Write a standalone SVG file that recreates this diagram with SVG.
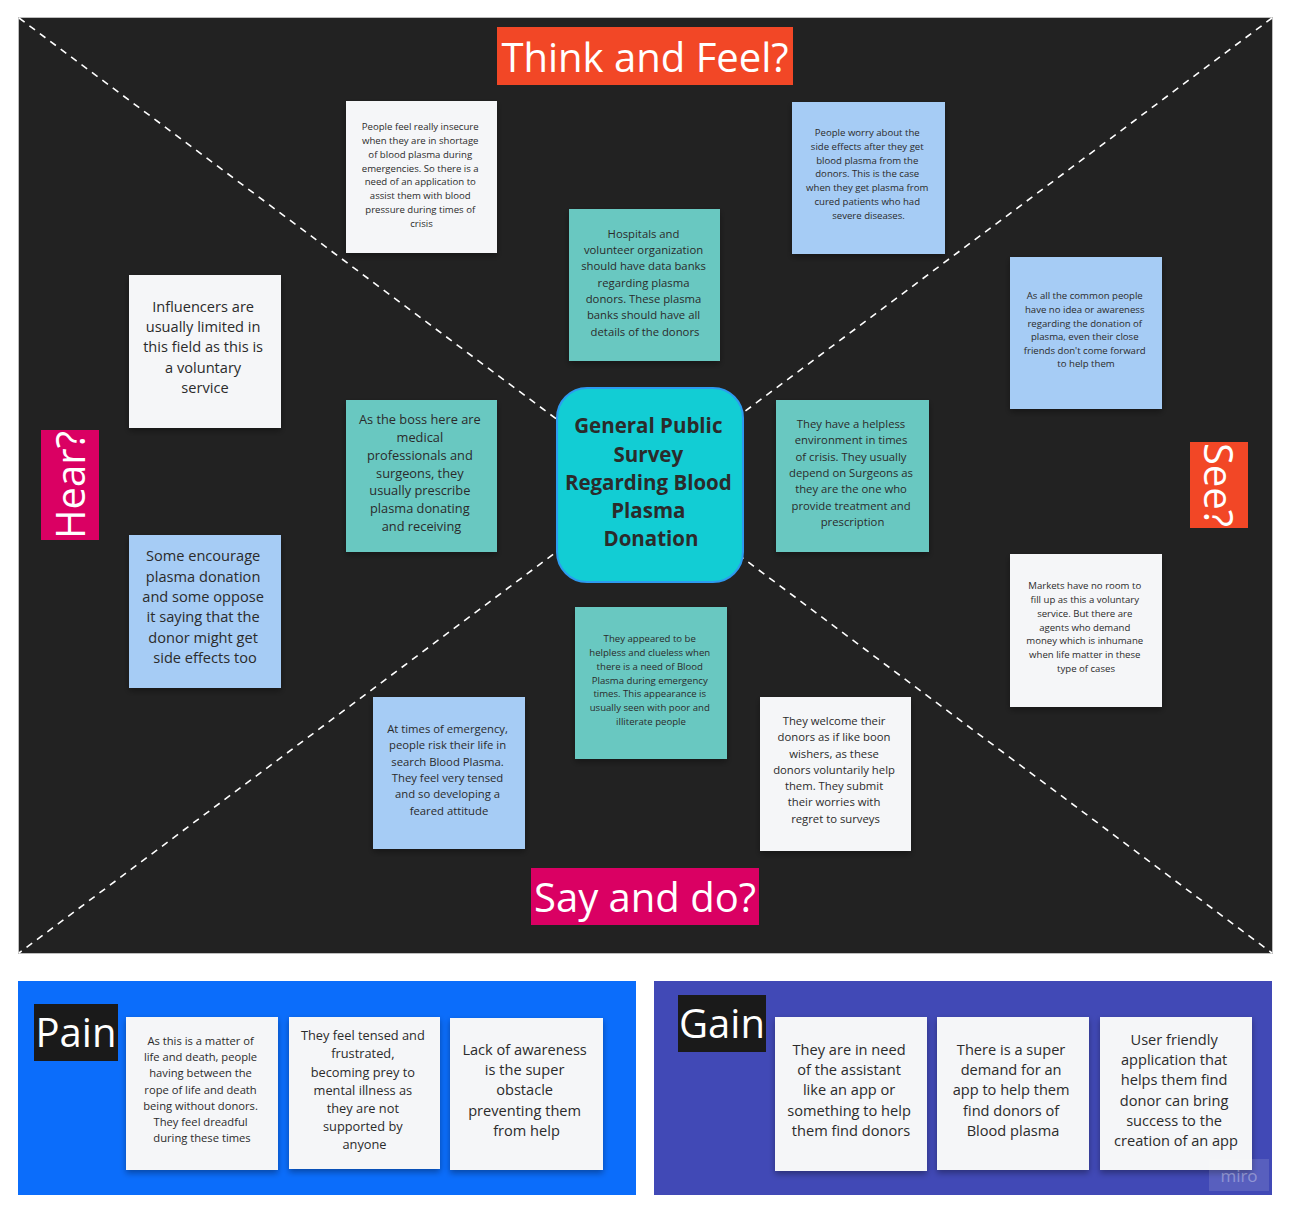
<svg xmlns="http://www.w3.org/2000/svg" width="1289" height="1211" viewBox="0 0 1289 1211">
  <style>
    .t { font-family: "Open Sans", "Noto Sans", "DejaVu Sans", sans-serif; fill: #2b2b2b; text-anchor: middle; }
    .white { fill: #f5f6f8; }
    .blue { fill: #a6ccf5; }
    .teal { fill: #69c8c1; }
    .note { filter: url(#shadow); }
    .label { font-family: "Open Sans", "Noto Sans", "DejaVu Sans", sans-serif; font-size: 40px; fill: #ffffff; text-anchor: middle; }
    .diag { stroke: #ffffff; stroke-width: 1.6; stroke-dasharray: 7 6; fill: none; }
  </style>
  <defs>
    <filter id="shadow" x="-10%" y="-10%" width="120%" height="130%">
      <feDropShadow dx="0" dy="3" stdDeviation="3" flood-color="#000000" flood-opacity="0.35"/>
    </filter>
  </defs>

  <rect width="1289" height="1211" fill="#ffffff"/>

  <!-- empathy map board -->
  <rect x="18.5" y="17.5" width="1254" height="936" fill="#222222" stroke="#bdbdbd" stroke-width="1"/>

  <!-- quadrant dividers -->
  <g id="connectors">
    <line class="diag" x1="19" y1="18" x2="1272" y2="953"/>
    <line class="diag" x1="1272" y1="18" x2="19" y2="953"/>
  </g>

  <!-- quadrant titles -->
  <g id="title-think">
    <rect x="497" y="27" width="296" height="58" fill="#f24726"/>
    <text class="label" x="645" y="72">Think and Feel?</text>
  </g>
  <g id="title-say">
    <rect x="531" y="868" width="228" height="57" fill="#da0063"/>
    <text class="label" x="645" y="912">Say and do?</text>
  </g>
  <g id="title-hear">
    <rect x="41" y="430" width="58" height="110" fill="#da0063"/>
    <text class="label" transform="translate(85 485) rotate(-90)">Hear?</text>
  </g>
  <g id="title-see">
    <rect x="1190" y="442" width="58" height="86" fill="#f24726"/>
    <text class="label" transform="translate(1204 485) rotate(90)">See?</text>
  </g>

  <!-- central topic -->
  <g id="center">
    <rect x="557" y="388" width="186" height="194" rx="30" fill="#12cdd4" stroke="#2d9bf0" stroke-width="2"/>
    <text class="t" font-size="20.5" font-weight="bold" fill="#1a1a1a">
      <tspan x="651" y="433">General Public</tspan>
      <tspan x="651" y="462">Survey</tspan>
      <tspan x="651" y="490">Regarding Blood</tspan>
      <tspan x="651" y="518">Plasma</tspan>
      <tspan x="651" y="546">Donation</tspan>
    </text>
  </g>

  <!-- think and feel -->
  <g id="note-insecure">
    <rect class="note white" x="346" y="101" width="151" height="152"/>
    <text class="t" font-size="9.6">
      <tspan x="421.5" y="130">People feel really insecure</tspan>
      <tspan x="421.5" y="144">when they are in shortage</tspan>
      <tspan x="421.5" y="158">of blood plasma during</tspan>
      <tspan x="421.5" y="172">emergencies. So there is a</tspan>
      <tspan x="421.5" y="185">need of an application to</tspan>
      <tspan x="421.5" y="199">assist them with blood</tspan>
      <tspan x="421.5" y="213">pressure during times of</tspan>
      <tspan x="421.5" y="227">crisis</tspan>
    </text>
  </g>
  <g id="note-worry">
    <rect class="note blue" x="792" y="102" width="153" height="152"/>
    <text class="t" font-size="9.6">
      <tspan x="868.5" y="136">People worry about the</tspan>
      <tspan x="868.5" y="150">side effects after they get</tspan>
      <tspan x="868.5" y="164">blood plasma from the</tspan>
      <tspan x="868.5" y="177">donors. This is the case</tspan>
      <tspan x="868.5" y="191">when they get plasma from</tspan>
      <tspan x="868.5" y="205">cured patients who had</tspan>
      <tspan x="868.5" y="219">severe diseases.</tspan>
    </text>
  </g>
  <g id="note-databanks">
    <rect class="note teal" x="569" y="209" width="151" height="152"/>
    <text class="t" font-size="11.3">
      <tspan x="645" y="238">Hospitals and</tspan>
      <tspan x="645" y="254">volunteer organization</tspan>
      <tspan x="645" y="270">should have data banks</tspan>
      <tspan x="645" y="287">regarding plasma</tspan>
      <tspan x="645" y="303">donors. These plasma</tspan>
      <tspan x="645" y="319">banks should have all</tspan>
      <tspan x="645" y="336">details of the donors</tspan>
    </text>
  </g>

  <!-- see -->
  <g id="note-awareness">
    <rect class="note blue" x="1010" y="257" width="152" height="152"/>
    <text class="t" font-size="9.6">
      <tspan x="1086" y="299">As all the common people</tspan>
      <tspan x="1086" y="313">have no idea or awareness</tspan>
      <tspan x="1086" y="327">regarding the donation of</tspan>
      <tspan x="1086" y="340">plasma, even their close</tspan>
      <tspan x="1086" y="354">friends don't come forward</tspan>
      <tspan x="1086" y="367">to help them</tspan>
    </text>
  </g>
  <g id="note-helpless">
    <rect class="note teal" x="776" y="400" width="153" height="152"/>
    <text class="t" font-size="11.3">
      <tspan x="852.5" y="428">They have a helpless</tspan>
      <tspan x="852.5" y="444">environment in times</tspan>
      <tspan x="852.5" y="461">of crisis. They usually</tspan>
      <tspan x="852.5" y="477">depend on Surgeons as</tspan>
      <tspan x="852.5" y="493">they are the one who</tspan>
      <tspan x="852.5" y="510">provide treatment and</tspan>
      <tspan x="852.5" y="526">prescription</tspan>
    </text>
  </g>
  <g id="note-markets">
    <rect class="note white" x="1010" y="554" width="152" height="153"/>
    <text class="t" font-size="9.6">
      <tspan x="1086" y="589">Markets have no room to</tspan>
      <tspan x="1086" y="603">fill up as this a voluntary</tspan>
      <tspan x="1086" y="617">service. But there are</tspan>
      <tspan x="1086" y="631">agents who demand</tspan>
      <tspan x="1086" y="644">money which is inhumane</tspan>
      <tspan x="1086" y="658">when life matter in these</tspan>
      <tspan x="1086" y="672">type of cases</tspan>
    </text>
  </g>

  <!-- hear -->
  <g id="note-influencers">
    <rect class="note white" x="129" y="275" width="152" height="153"/>
    <text class="t" font-size="14.6">
      <tspan x="205" y="312">Influencers are</tspan>
      <tspan x="205" y="332">usually limited in</tspan>
      <tspan x="205" y="352">this field as this is</tspan>
      <tspan x="205" y="373">a voluntary</tspan>
      <tspan x="205" y="393">service</tspan>
    </text>
  </g>
  <g id="note-boss">
    <rect class="note teal" x="346" y="400" width="151" height="152"/>
    <text class="t" font-size="12.8">
      <tspan x="421.5" y="424">As the boss here are</tspan>
      <tspan x="421.5" y="442">medical</tspan>
      <tspan x="421.5" y="460">professionals and</tspan>
      <tspan x="421.5" y="478">surgeons, they</tspan>
      <tspan x="421.5" y="495">usually prescribe</tspan>
      <tspan x="421.5" y="513">plasma donating</tspan>
      <tspan x="421.5" y="531">and receiving</tspan>
    </text>
  </g>
  <g id="note-encourage">
    <rect class="note blue" x="129" y="535" width="152" height="153"/>
    <text class="t" font-size="14.6">
      <tspan x="205" y="561">Some encourage</tspan>
      <tspan x="205" y="582">plasma donation</tspan>
      <tspan x="205" y="602">and some oppose</tspan>
      <tspan x="205" y="622">it saying that the</tspan>
      <tspan x="205" y="643">donor might get</tspan>
      <tspan x="205" y="663">side effects too</tspan>
    </text>
  </g>

  <!-- say and do -->
  <g id="note-clueless">
    <rect class="note teal" x="575" y="607" width="152" height="152"/>
    <text class="t" font-size="9.6">
      <tspan x="651" y="642">They appeared to be</tspan>
      <tspan x="651" y="656">helpless and clueless when</tspan>
      <tspan x="651" y="670">there is a need of Blood</tspan>
      <tspan x="651" y="684">Plasma during emergency</tspan>
      <tspan x="651" y="697">times. This appearance is</tspan>
      <tspan x="651" y="711">usually seen with poor and</tspan>
      <tspan x="651" y="725">illiterate people</tspan>
    </text>
  </g>
  <g id="note-risk">
    <rect class="note blue" x="373" y="697" width="152" height="152"/>
    <text class="t" font-size="11.3">
      <tspan x="449" y="733">At times of emergency,</tspan>
      <tspan x="449" y="749">people risk their life in</tspan>
      <tspan x="449" y="766">search Blood Plasma.</tspan>
      <tspan x="449" y="782">They feel very tensed</tspan>
      <tspan x="449" y="798">and so developing a</tspan>
      <tspan x="449" y="815">feared attitude</tspan>
    </text>
  </g>
  <g id="note-welcome">
    <rect class="note white" x="760" y="697" width="151" height="154"/>
    <text class="t" font-size="11.3">
      <tspan x="835.5" y="725">They welcome their</tspan>
      <tspan x="835.5" y="741">donors as if like boon</tspan>
      <tspan x="835.5" y="758">wishers, as these</tspan>
      <tspan x="835.5" y="774">donors voluntarily help</tspan>
      <tspan x="835.5" y="790">them. They submit</tspan>
      <tspan x="835.5" y="806">their worries with</tspan>
      <tspan x="835.5" y="823">regret to surveys</tspan>
    </text>
  </g>

  <!-- pain panel -->
  <rect x="18" y="981" width="618" height="214" fill="#0b6dfb"/>
  <g id="title-pain">
    <rect x="34" y="1004" width="84" height="57" fill="#1a1a1a"/>
    <text class="label" x="76" y="1047">Pain</text>
  </g>
  <g id="pain-dreadful">
    <rect class="note white" x="126" y="1017" width="152" height="153"/>
    <text class="t" font-size="11.2">
      <tspan x="202" y="1045">As this is a matter of</tspan>
      <tspan x="202" y="1061">life and death, people</tspan>
      <tspan x="202" y="1077">having between the</tspan>
      <tspan x="202" y="1094">rope of life and death</tspan>
      <tspan x="202" y="1110">being without donors.</tspan>
      <tspan x="202" y="1126">They feel dreadful</tspan>
      <tspan x="202" y="1142">during these times</tspan>
    </text>
  </g>
  <g id="pain-tensed">
    <rect class="note white" x="289" y="1017" width="151" height="152"/>
    <text class="t" font-size="12.8">
      <tspan x="364.5" y="1040">They feel tensed and</tspan>
      <tspan x="364.5" y="1058">frustrated,</tspan>
      <tspan x="364.5" y="1077">becoming prey to</tspan>
      <tspan x="364.5" y="1095">mental illness as</tspan>
      <tspan x="364.5" y="1113">they are not</tspan>
      <tspan x="364.5" y="1131">supported by</tspan>
      <tspan x="364.5" y="1149">anyone</tspan>
    </text>
  </g>
  <g id="pain-awareness">
    <rect class="note white" x="450" y="1018" width="153" height="152"/>
    <text class="t" font-size="14.6">
      <tspan x="526.5" y="1055">Lack of awareness</tspan>
      <tspan x="526.5" y="1075">is the super</tspan>
      <tspan x="526.5" y="1095">obstacle</tspan>
      <tspan x="526.5" y="1116">preventing them</tspan>
      <tspan x="526.5" y="1136">from help</tspan>
    </text>
  </g>

  <!-- gain panel -->
  <rect x="654" y="981" width="618" height="214" fill="#4149b6"/>
  <g id="title-gain">
    <rect x="678" y="995" width="88" height="57" fill="#1a1a1a"/>
    <text class="label" x="722" y="1038">Gain</text>
  </g>
  <g id="gain-assistant">
    <rect class="note white" x="775" y="1017" width="152" height="154"/>
    <text class="t" font-size="14.6">
      <tspan x="851" y="1055">They are in need</tspan>
      <tspan x="851" y="1075">of the assistant</tspan>
      <tspan x="851" y="1095">like an app or</tspan>
      <tspan x="851" y="1116">something to help</tspan>
      <tspan x="851" y="1136">them find donors</tspan>
    </text>
  </g>
  <g id="gain-demand">
    <rect class="note white" x="937" y="1017" width="152" height="153"/>
    <text class="t" font-size="14.6">
      <tspan x="1013" y="1055">There is a super</tspan>
      <tspan x="1013" y="1075">demand for an</tspan>
      <tspan x="1013" y="1095">app to help them</tspan>
      <tspan x="1013" y="1116">find donors of</tspan>
      <tspan x="1013" y="1136">Blood plasma</tspan>
    </text>
  </g>
  <g id="gain-friendly">
    <rect class="note white" x="1100" y="1017" width="152" height="153"/>
    <text class="t" font-size="14.6">
      <tspan x="1176" y="1045">User friendly</tspan>
      <tspan x="1176" y="1065">application that</tspan>
      <tspan x="1176" y="1085">helps them find</tspan>
      <tspan x="1176" y="1106">donor can bring</tspan>
      <tspan x="1176" y="1126">success to the</tspan>
      <tspan x="1176" y="1146">creation of an app</tspan>
    </text>
  </g>

  <!-- board watermark -->
  <rect x="1209" y="1159" width="60" height="32" fill="#ffffff" fill-opacity="0.12"/>
  <text x="1239" y="1182" font-family="'Open Sans', sans-serif" font-size="17" fill="#ffffff" fill-opacity="0.35" text-anchor="middle">miro</text>
</svg>
